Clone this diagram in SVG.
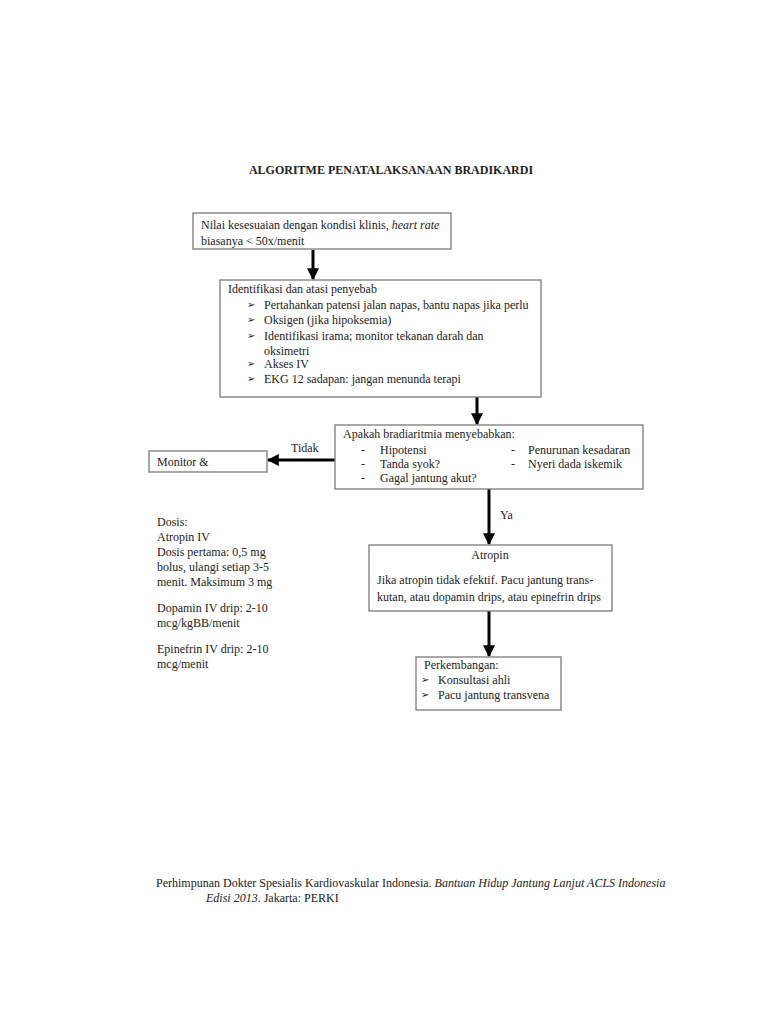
<svg xmlns="http://www.w3.org/2000/svg" width="768" height="1024" viewBox="0 0 768 1024">
<defs>
<style>
text{font-family:"Liberation Serif","Times New Roman",serif;font-size:12px;fill:#222}
.title{font-weight:bold;font-size:12px}
.box{fill:#fff;stroke:#7a7a7a;stroke-width:1.3}
.b{font-family:"DejaVu Sans",sans-serif;font-size:10px}
.con{stroke:#000;stroke-width:3;fill:none}
</style>
<marker id="ah" viewBox="0 0 10 10" refX="9" refY="5" markerWidth="4" markerHeight="4" orient="auto-start-reverse" markerUnits="strokeWidth">
<path d="M0,0 L10,5 L0,10 z" fill="#000"/>
</marker>
</defs>
<rect width="768" height="1024" fill="#fff"/>
<text class="title" x="391" y="174" text-anchor="middle">ALGORITME PENATALAKSANAAN BRADIKARDI</text>

<g id="connectors">
<line class="con" x1="313" y1="250" x2="313" y2="279" marker-end="url(#ah)"/>
<line class="con" x1="477" y1="397" x2="477" y2="424" marker-end="url(#ah)"/>
<line class="con" x1="335" y1="460" x2="268" y2="460" marker-end="url(#ah)"/>
<text x="291" y="452">Tidak</text>
<line class="con" x1="489" y1="489" x2="489" y2="544" marker-end="url(#ah)"/>
<text x="500" y="519">Ya</text>
<line class="con" x1="489" y1="611" x2="489" y2="656" marker-end="url(#ah)"/>
</g>

<g id="n1">
<rect class="box" x="193" y="213" width="258" height="36"/>
<text x="201" y="229">Nilai kesesuaian dengan kondisi klinis, <tspan font-style="italic">heart rate</tspan></text>
<text x="201" y="245">biasanya &lt; 50x/menit</text>
</g>

<g id="n2">
<rect class="box" x="220" y="280" width="321" height="117"/>
<text x="228" y="293">Identifikasi dan atasi penyebab</text>
<text class="b" x="247" y="308">➢</text><text x="264" y="309">Pertahankan patensi jalan napas, bantu napas jika perlu</text>
<text class="b" x="247" y="323">➢</text><text x="264" y="324">Oksigen (jika hipoksemia)</text>
<text class="b" x="247" y="339">➢</text><text x="264" y="340">Identifikasi irama; monitor tekanan darah dan</text>
<text x="264" y="355">oksimetri</text>
<text class="b" x="247" y="367">➢</text><text x="264" y="368">Akses IV</text>
<text class="b" x="247" y="382">➢</text><text x="264" y="383">EKG 12 sadapan: jangan menunda terapi</text>
</g>

<g id="n3">
<rect class="box" x="335" y="425" width="308" height="64"/>
<text x="343" y="438">Apakah bradiaritmia menyebabkan:</text>
<text x="361" y="454">-</text><text x="380" y="454">Hipotensi</text>
<text x="361" y="468">-</text><text x="380" y="468">Tanda syok?</text>
<text x="361" y="482">-</text><text x="380" y="482">Gagal jantung akut?</text>
<text x="511" y="454">-</text><text x="528" y="454">Penurunan kesadaran</text>
<text x="511" y="468">-</text><text x="528" y="468">Nyeri dada iskemik</text>
</g>

<g id="n4">
<rect class="box" x="149" y="451" width="118" height="21"/>
<text x="157" y="466">Monitor &amp;</text>
</g>

<g id="n5">
<rect class="box" x="369" y="545" width="243" height="66"/>
<text x="490" y="559" text-anchor="middle">Atropin</text>
<text x="377" y="584">Jika atropin tidak efektif. Pacu jantung trans-</text>
<text x="377" y="601">kutan, atau dopamin drips, atau epinefrin drips</text>
</g>

<g id="n6">
<rect class="box" x="416" y="657" width="145" height="53"/>
<text x="424" y="669">Perkembangan:</text>
<text class="b" x="421" y="683">➢</text><text x="438" y="684">Konsultasi ahli</text>
<text class="b" x="421" y="698">➢</text><text x="438" y="699">Pacu jantung transvena</text>
</g>

<g id="dosis">
<text x="157" y="526">Dosis:</text>
<text x="157" y="541">Atropin IV</text>
<text x="157" y="556">Dosis pertama: 0,5 mg</text>
<text x="157" y="571">bolus, ulangi setiap 3-5</text>
<text x="157" y="586">menit. Maksimum 3 mg</text>
<text x="157" y="612">Dopamin IV drip: 2-10</text>
<text x="157" y="627">mcg/kgBB/menit</text>
<text x="157" y="653">Epinefrin IV drip: 2-10</text>
<text x="157" y="668">mcg/menit</text>
</g>

<g id="footer">
<text x="156" y="887">Perhimpunan Dokter Spesialis Kardiovaskular Indonesia. <tspan font-style="italic">Bantuan Hidup Jantung Lanjut ACLS Indonesia</tspan></text>
<text x="206" y="902"><tspan font-style="italic">Edisi 2013</tspan>. Jakarta: PERKI</text>
</g>
</svg>
